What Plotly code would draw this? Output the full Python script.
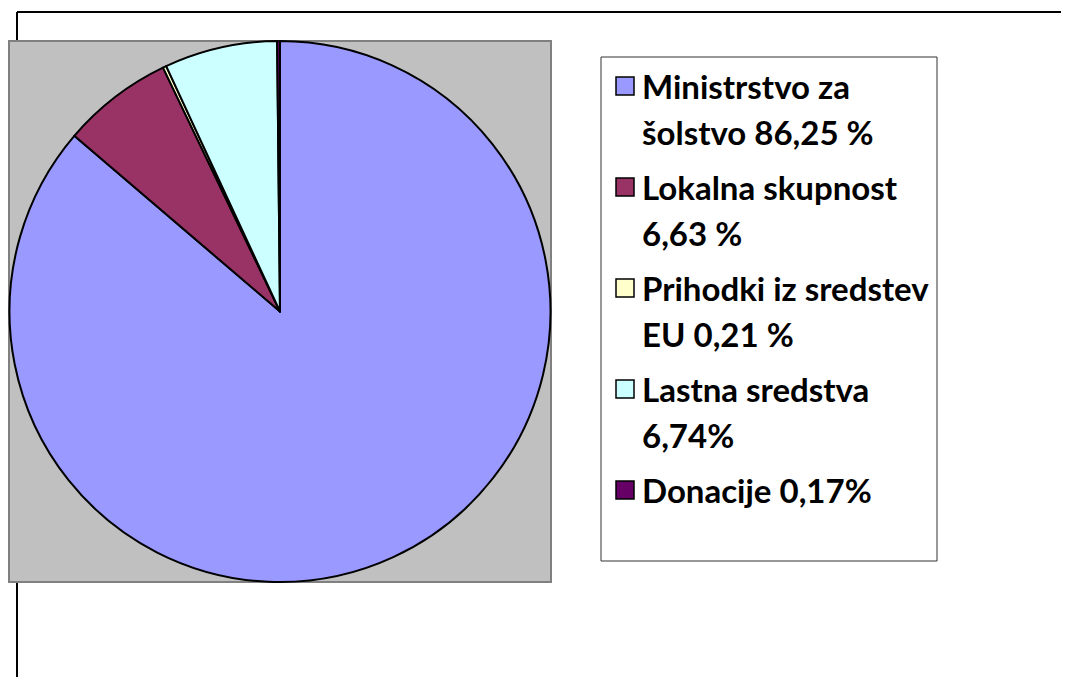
import plotly.graph_objects as go

# ---- data ----
labels = ["Ministrstvo za<br>šolstvo 86,25 %", "Lokalna skupnost<br>6,63 %",
          "Prihodki iz sredstev<br>EU 0,21 %", "Lastna sredstva<br>6,74%", "Donacije 0,17%"]
values = [86.25, 6.63, 0.21, 6.74, 0.17]
colors = ["#9999FF", "#993366", "#FFFFCC", "#CCFFFF", "#660066"]

OFF = 8  # page body margin
W, H = 1069 - OFF, 677 - OFF
def px(x): return (x - OFF) / W
def py(y): return 1 - (y - OFF) / H

fig = go.Figure()
fig.add_trace(go.Pie(
    labels=[l.replace("<br>", " ") for l in labels], values=values, sort=False,
    direction="clockwise", rotation=0, textinfo="none", hoverinfo="label+value",
    marker=dict(colors=colors, line=dict(color="#000000", width=2)),
    domain=dict(x=[px(9), px(551)], y=[py(582), py(41)]),
    showlegend=False,
))

shapes = []
# chart area border (partially visible)
shapes.append(dict(type="line", xref="paper", yref="paper", x0=px(17), x1=px(1069),
                   y0=py(12), y1=py(12), line=dict(color="#000000", width=2), layer="below"))
shapes.append(dict(type="line", xref="paper", yref="paper", x0=px(17), x1=px(17),
                   y0=py(12), y1=py(677), line=dict(color="#000000", width=2), layer="below"))
# plot area
shapes.append(dict(type="rect", xref="paper", yref="paper", x0=px(9), x1=px(551),
                   y0=py(582), y1=py(41), fillcolor="#C0C0C0",
                   line=dict(color="#808080", width=2), layer="below"))
# legend box
shapes.append(dict(type="rect", xref="paper", yref="paper", x0=px(601), x1=px(937),
                   y0=py(561), y1=py(57), fillcolor="#FFFFFF",
                   line=dict(color="#333333", width=1), layer="below"))

annotations = []
first_line_y = 86
line_step = 46
item_step = 101
y = first_line_y
for lab, col in zip(labels, colors):
    lines = lab.split("<br>")
    shapes.append(dict(type="rect", xref="paper", yref="paper", x0=px(616), x1=px(634),
                       y0=py(y + 9), y1=py(y - 9), fillcolor=col,
                       line=dict(color="#000000", width=1.5), layer="above"))
    for i, ln in enumerate(lines):
        annotations.append(dict(text="<b>" + ln + "</b>", xref="paper", yref="paper",
                                x=px(640), y=py(y + i * line_step), xanchor="left",
                                yanchor="middle", showarrow=False,
                                font=dict(family="Lato", size=33, color="#000000")))
    y += item_step

fig.update_layout(
    width=W, height=H, margin=dict(l=0, r=0, t=0, b=0),
    paper_bgcolor="#FFFFFF", plot_bgcolor="#FFFFFF",
    shapes=shapes, annotations=annotations, showlegend=False,
)
fig.write_html("out.html", post_script="document.body.style.overflow='hidden';")
